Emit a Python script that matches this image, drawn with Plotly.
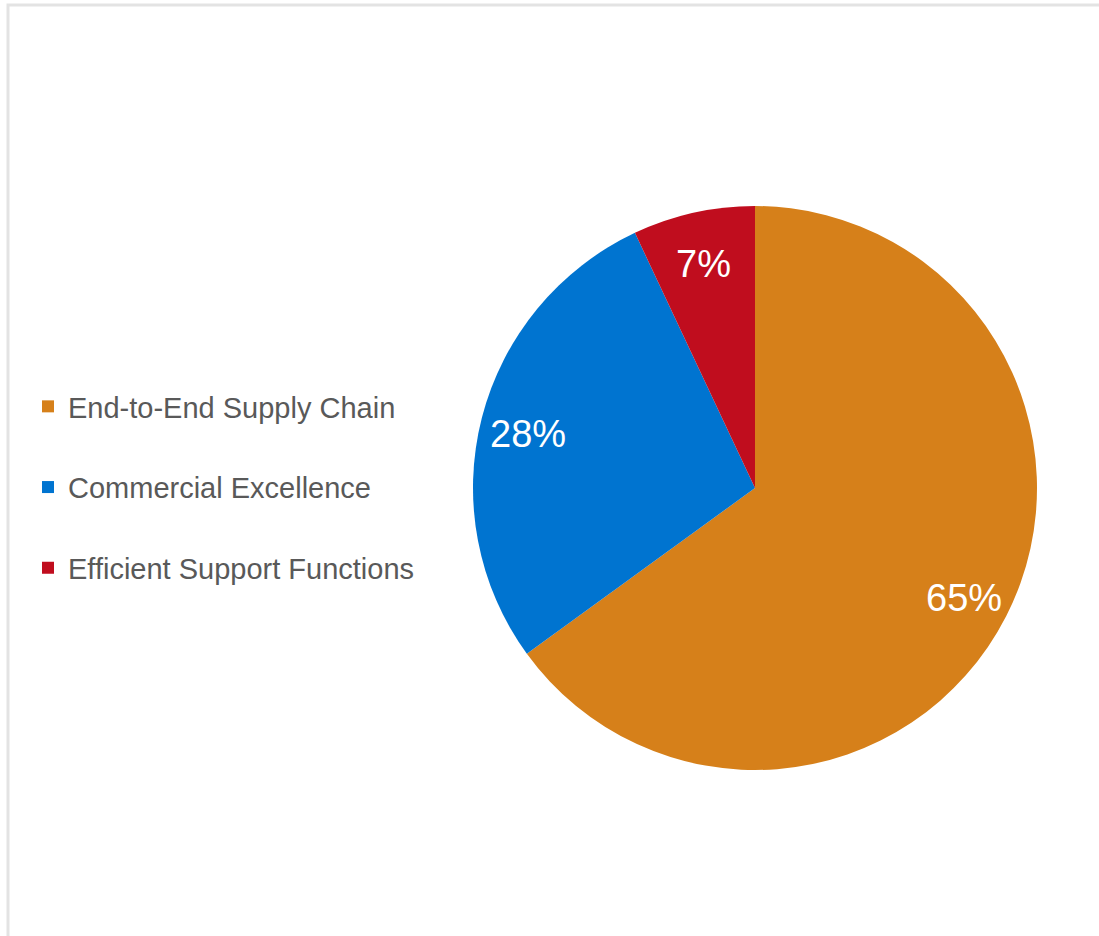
import math
import plotly.graph_objects as go

# Share of initiatives by programme area
categories = ["End-to-End Supply Chain", "Commercial Excellence", "Efficient Support Functions"]
shares = [65, 28, 7]
colors = ["#D6801A", "#0074D0", "#C00D1E"]

W, H = 1099, 936
FONT = "Liberation Sans, Arial, sans-serif"

# pie placement in pixels (margins are zero, so paper == page)
cx, cy, r = 755, 488, 282
dom_x = [(cx - r) / W, (cx + r) / W]
dom_y = [1 - (cy + r) / H, 1 - (cy - r) / H]

fig = go.Figure()
fig.add_trace(go.Pie(
    labels=categories,
    values=shares,
    sort=False,
    direction="clockwise",
    rotation=0,
    marker=dict(colors=colors, line=dict(width=0)),
    textinfo="none",
    hoverinfo="label+percent",
    showlegend=False,
    domain=dict(x=dom_x, y=dom_y),
))

# legend entries as empty marker traces so item spacing can be controlled
for i, (name, col) in enumerate(zip(categories, colors)):
    fig.add_trace(go.Scatter(
        x=[None], y=[None], mode="markers", name=name,
        marker=dict(symbol="square", size=12, color=col),
        legendgroup=f"g{i}", showlegend=True, hoverinfo="skip",
    ))

# percentage labels placed along each slice's mid-angle
total = sum(shares)
cum = 0
annotations = []
for v in shares:
    mid = (cum + v / 2) / total
    cum += v
    theta = 2 * math.pi * mid
    rr = 0.83 * r
    px = cx + rr * math.sin(theta)
    py = cy - rr * math.cos(theta) + 4
    annotations.append(dict(
        x=px / W, y=1 - py / H, xref="paper", yref="paper",
        text=f"{v}%", showarrow=False,
        font=dict(family=FONT, size=38, color="white"),
        xanchor="center", yanchor="middle",
    ))

fig.update_layout(
    width=W, height=H,
    margin=dict(l=0, r=0, t=0, b=0),
    paper_bgcolor="white", plot_bgcolor="white",
    xaxis=dict(visible=False), yaxis=dict(visible=False),
    annotations=annotations,
    legend=dict(
        x=28 / W, y=1 - 381 / H, xanchor="left", yanchor="top",
        font=dict(family=FONT, size=29, color="#595959"),
        tracegroupgap=40, traceorder="grouped",
        bgcolor="rgba(0,0,0,0)",
    ),
    shapes=[dict(
        type="rect", xref="paper", yref="paper",
        x0=8 / W, x1=1.02, y0=-0.02, y1=1 - 5 / H,
        line=dict(color="#E3E3E3", width=3), fillcolor="rgba(0,0,0,0)",
    )],
)

fig.write_html("out.html")
